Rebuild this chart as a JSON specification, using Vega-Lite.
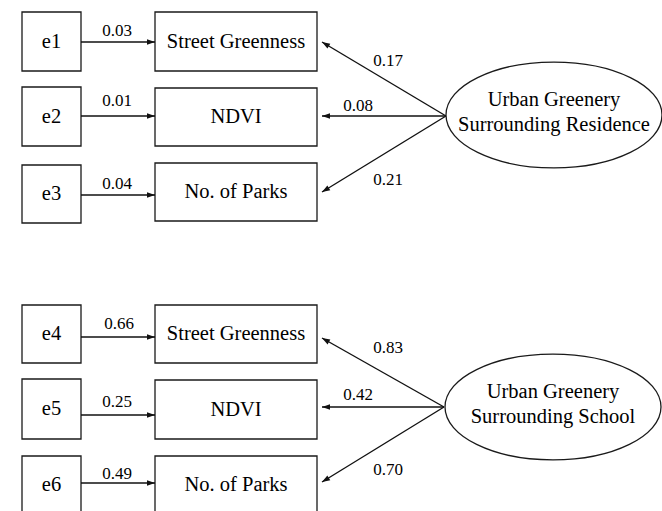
{
  "$schema": "https://vega.github.io/schema/vega-lite/v6.json",
  "width": 662,
  "height": 511,
  "padding": 0,
  "autosize": {"type": "none"},
  "background": "white",
  "config": {"view": {"stroke": null}},
  "datasets": {
    "boxes": [
      {"label": "e1", "x0": 22, "x1": 81, "y0": 12, "y1": 71},
      {"label": "e2", "x0": 22, "x1": 81, "y0": 87, "y1": 146},
      {"label": "e3", "x0": 22, "x1": 81, "y0": 165, "y1": 223},
      {"label": "Street Greenness", "x0": 155, "x1": 317, "y0": 12, "y1": 71},
      {"label": "NDVI", "x0": 155, "x1": 317, "y0": 88, "y1": 146},
      {"label": "No. of Parks", "x0": 155, "x1": 317, "y0": 163, "y1": 221},
      {"label": "e4", "x0": 22, "x1": 81, "y0": 305, "y1": 363},
      {"label": "e5", "x0": 22, "x1": 81, "y0": 379, "y1": 439},
      {"label": "e6", "x0": 22, "x1": 81, "y0": 456, "y1": 514},
      {"label": "Street Greenness", "x0": 155, "x1": 317, "y0": 305, "y1": 363},
      {"label": "NDVI", "x0": 155, "x1": 317, "y0": 380, "y1": 439},
      {"label": "No. of Parks", "x0": 155, "x1": 317, "y0": 456, "y1": 514}
    ],
    "latent": [
      {"label": "Urban Greenery\nSurrounding Residence", "cx": 554, "cy": 115},
      {"label": "Urban Greenery\nSurrounding School", "cx": 553, "cy": 407}
    ],
    "paths": [
      {"coef": "0.03", "x1": 81, "y1": 42, "x2": 155, "y2": 42, "lx": 117, "ly": 31},
      {"coef": "0.01", "x1": 81, "y1": 116, "x2": 155, "y2": 116, "lx": 117, "ly": 101},
      {"coef": "0.04", "x1": 81, "y1": 195, "x2": 155, "y2": 195, "lx": 117, "ly": 184},
      {"coef": "0.17", "x1": 446, "y1": 116, "x2": 322, "y2": 42, "lx": 388, "ly": 61},
      {"coef": "0.08", "x1": 446, "y1": 116, "x2": 322, "y2": 116, "lx": 358, "ly": 106},
      {"coef": "0.21", "x1": 446, "y1": 116, "x2": 322, "y2": 192, "lx": 388, "ly": 180},
      {"coef": "0.66", "x1": 81, "y1": 337, "x2": 155, "y2": 337, "lx": 119, "ly": 324},
      {"coef": "0.25", "x1": 81, "y1": 415, "x2": 155, "y2": 415, "lx": 117, "ly": 402},
      {"coef": "0.49", "x1": 81, "y1": 483, "x2": 155, "y2": 483, "lx": 117, "ly": 474},
      {"coef": "0.83", "x1": 444, "y1": 407, "x2": 322, "y2": 338, "lx": 388, "ly": 348},
      {"coef": "0.42", "x1": 444, "y1": 407, "x2": 322, "y2": 407, "lx": 358, "ly": 395},
      {"coef": "0.70", "x1": 444, "y1": 407, "x2": 322, "y2": 482, "lx": 388, "ly": 470}
    ]
  },
  "layer": [
    {
      "data": {"name": "boxes"},
      "mark": {"type": "rect", "fill": "white", "stroke": "#1a1a1a", "strokeWidth": 1.3},
      "encoding": {
        "x": {"field": "x0", "type": "quantitative", "scale": {"domain": [0, 662], "nice": false, "zero": false}, "axis": null},
        "x2": {"field": "x1"},
        "y": {"field": "y0", "type": "quantitative", "scale": {"domain": [0, 511], "nice": false, "zero": false, "reverse": true}, "axis": null},
        "y2": {"field": "y1"}
      }
    },
    {
      "data": {"name": "boxes"},
      "transform": [
        {"calculate": "(datum.x0 + datum.x1) / 2", "as": "cx"},
        {"calculate": "(datum.y0 + datum.y1) / 2", "as": "cy"}
      ],
      "mark": {"type": "text", "font": "Liberation Serif", "fontSize": 20.5, "baseline": "middle", "align": "center", "color": "#000"},
      "encoding": {
        "x": {"field": "cx", "type": "quantitative", "axis": null},
        "y": {"field": "cy", "type": "quantitative", "axis": null},
        "text": {"field": "label"}
      }
    },
    {
      "data": {"name": "paths"},
      "mark": {"type": "rule", "color": "#111", "strokeWidth": 1.4},
      "encoding": {
        "x": {"field": "x1", "type": "quantitative", "axis": null},
        "y": {"field": "y1", "type": "quantitative", "axis": null},
        "x2": {"field": "x2"},
        "y2": {"field": "y2"}
      }
    },
    {
      "data": {"name": "paths"},
      "transform": [
        {"calculate": "atan2(datum.y2 - datum.y1, datum.x2 - datum.x1) * 180 / PI", "as": "ang"}
      ],
      "mark": {"type": "point", "shape": "M 0 0 L -2 -0.7 L -2 0.7 Z", "size": 64, "filled": true, "color": "#111", "opacity": 1},
      "encoding": {
        "x": {"field": "x2", "type": "quantitative", "axis": null},
        "y": {"field": "y2", "type": "quantitative", "axis": null},
        "angle": {"field": "ang", "type": "quantitative", "scale": null}
      }
    },
    {
      "data": {"name": "latent"},
      "mark": {"type": "point", "shape": "M -1 0 A 1 0.49 0 1 1 1 0 A 1 0.49 0 1 1 -1 0 Z", "size": 46656, "fill": "white", "stroke": "#1a1a1a", "strokeWidth": 1.3, "opacity": 1, "fillOpacity": 1},
      "encoding": {
        "x": {"field": "cx", "type": "quantitative", "axis": null},
        "y": {"field": "cy", "type": "quantitative", "axis": null}
      }
    },
    {
      "data": {"name": "latent"},
      "mark": {"type": "text", "font": "Liberation Serif", "fontSize": 20.5, "baseline": "middle", "align": "center", "lineBreak": "\n", "lineHeight": 25, "dy": -15, "color": "#000"},
      "encoding": {
        "x": {"field": "cx", "type": "quantitative", "axis": null},
        "y": {"field": "cy", "type": "quantitative", "axis": null},
        "text": {"field": "label"}
      }
    },
    {
      "data": {"name": "paths"},
      "mark": {"type": "text", "font": "Liberation Serif", "fontSize": 17, "baseline": "middle", "align": "center", "color": "#000"},
      "encoding": {
        "x": {"field": "lx", "type": "quantitative", "axis": null},
        "y": {"field": "ly", "type": "quantitative", "axis": null},
        "text": {"field": "coef"}
      }
    }
  ]
}
